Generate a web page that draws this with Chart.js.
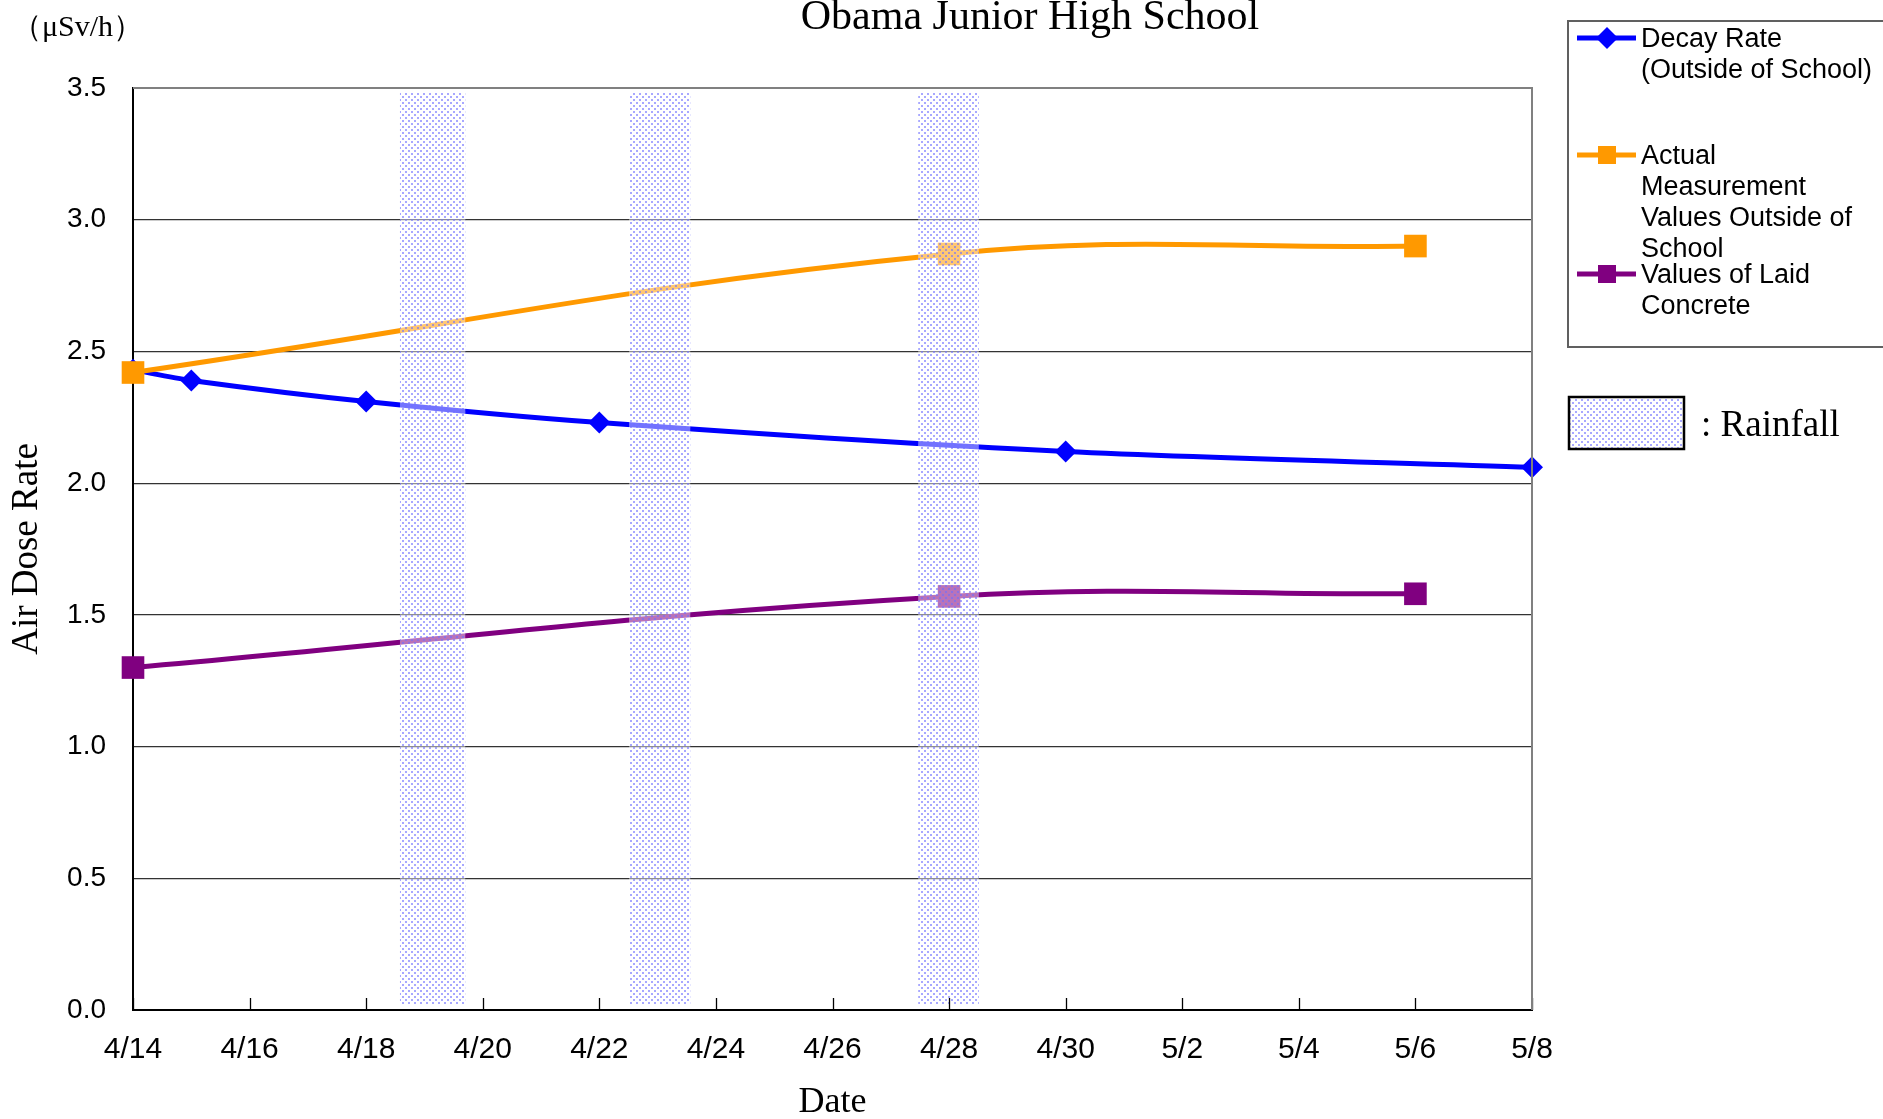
<!DOCTYPE html>
<html>
<head>
<meta charset="utf-8">
<script src="https://cdn.jsdelivr.net/npm/chart.js@4"></script>
<style>
  html, body { margin: 0; padding: 0; background: #fff; }
  #wrap { width: 1883px; height: 1119px; }
</style>
</head>
<body>
<div id="wrap"><canvas id="chart" width="1883" height="1119"></canvas></div>
<script>
// x values are days counted from 4/14
const tickLabels = ['4/14', '4/16', '4/18', '4/20', '4/22', '4/24', '4/26', '4/28', '4/30', '5/2', '5/4', '5/6', '5/8'];
const decayDays = [0, 1, 4, 8, 16, 24];
const decayValues = [2.43, 2.39, 2.31, 2.23, 2.12, 2.06];
const measureDays = [0, 14, 22];
const actualValues = [2.42, 2.87, 2.90];
const concreteValues = [1.30, 1.57, 1.58];
// rainfall periods (days from 4/14)
const rainStart = [4.58, 8.51, 13.47];
const rainEnd = [5.70, 9.56, 14.51];

const seriesNames = ['Decay Rate (Outside of School)', 'Actual Measurement Values Outside of School', 'Values of Laid Concrete'];
const legendLines = [
    ['Decay Rate', '(Outside of School)'],
    ['Actual', 'Measurement', 'Values Outside of', 'School'],
    ['Values of Laid', 'Concrete']
];

const BLUE = '#0000FF';
const ORANGE = '#FF9900';
const PURPLE = '#800080';
const SERIF = "'Liberation Serif', 'Times New Roman', serif";
const SANS = "'Liberation Sans', Arial, sans-serif";
const NARROW = "'Liberation Sans Narrow', 'Arial Narrow', 'Liberation Sans', sans-serif";

function toPoints(xs, ys) {
    return xs.map((x, i) => ({ x: x, y: ys[i] }));
}

// dotted fill used for the rainfall bands
function makeDots() {
    const c = document.createElement('canvas');
    c.width = 6;
    c.height = 6;
    const g = c.getContext('2d');
    g.fillStyle = 'rgba(110,110,255,0.6)';
    g.fillRect(0, 0, 2, 2);
    g.fillRect(3, 3, 2, 2);
    return c;
}

function drawMarker(ctx, style, x, y, size, color) {
    ctx.fillStyle = color;
    ctx.beginPath();
    if (style === 'diamond') {
        ctx.moveTo(x, y - size);
        ctx.lineTo(x + size, y);
        ctx.lineTo(x, y + size);
        ctx.lineTo(x - size, y);
        ctx.closePath();
    } else {
        ctx.rect(x - size, y - size, size * 2, size * 2);
    }
    ctx.fill();
}

const rainPlugin = {
    id: 'rain',
    afterDatasetsDraw(chart) {
        const ctx = chart.ctx;
        const xs = chart.scales.x;
        const area = chart.chartArea;
        const pat = ctx.createPattern(makeDots(), 'repeat');
        ctx.save();
        for (let i = 0; i < rainStart.length; i++) {
            const x0 = xs.getPixelForValue(rainStart[i]);
            const x1 = xs.getPixelForValue(rainEnd[i]);
            const y0 = area.top + 4;
            const y1 = area.bottom - 6;
            ctx.fillStyle = 'rgba(255,255,255,0.45)';
            ctx.fillRect(x0, y0, x1 - x0, y1 - y0);
            ctx.fillStyle = pat;
            ctx.fillRect(x0, y0, x1 - x0, y1 - y0);
        }
        ctx.restore();
    }
};

const decorPlugin = {
    id: 'decor',
    afterDraw(chart) {
        const ctx = chart.ctx;
        const area = chart.chartArea;
        const xs = chart.scales.x;
        ctx.save();

        // x tick marks pointing into the plot
        ctx.strokeStyle = '#000';
        ctx.lineWidth = 1.3;
        tickLabels.forEach((t, i) => {
            const px = Math.round(xs.getPixelForValue(i * 2)) + 0.5;
            ctx.beginPath();
            ctx.moveTo(px, area.bottom);
            ctx.lineTo(px, area.bottom - 12);
            ctx.stroke();
        });

        // top and right frame
        ctx.strokeStyle = '#808080';
        ctx.lineWidth = 2;
        ctx.beginPath();
        ctx.moveTo(area.left, area.top);
        ctx.lineTo(area.right, area.top);
        ctx.lineTo(area.right, area.bottom);
        ctx.stroke();

        // title and unit
        ctx.fillStyle = '#000';
        ctx.textBaseline = 'alphabetic';
        ctx.textAlign = 'center';
        ctx.font = '42px ' + SERIF;
        ctx.fillText('Obama Junior High School', 1030, 29);
        ctx.textAlign = 'left';
        ctx.font = '30px ' + SERIF;
        ctx.fillText('（μSv/h）', 12, 36);

        // legend box
        ctx.strokeStyle = '#606060';
        ctx.lineWidth = 2;
        ctx.strokeRect(1568, 21, 330, 326);

        const rowY = [38, 155, 274];
        const styles = ['diamond', 'square', 'square'];
        const sizes = [11, 9, 9];
        const colors = [BLUE, ORANGE, PURPLE];
        ctx.font = '27px ' + SANS;
        ctx.textBaseline = 'middle';
        for (let i = 0; i < 3; i++) {
            const y = rowY[i];
            ctx.strokeStyle = colors[i];
            ctx.lineWidth = 5;
            ctx.beginPath();
            ctx.moveTo(1577, y);
            ctx.lineTo(1636, y);
            ctx.stroke();
            drawMarker(ctx, styles[i], 1607, y, sizes[i], colors[i]);
            ctx.fillStyle = '#000';
            legendLines[i].forEach((line, j) => {
                ctx.fillText(line, 1641, y + 2 + j * 30.7);
            });
        }

        // rainfall key
        const pat = ctx.createPattern(makeDots(), 'repeat');
        ctx.fillStyle = '#fff';
        ctx.fillRect(1569, 397, 115, 52);
        ctx.fillStyle = pat;
        ctx.fillRect(1569, 397, 115, 52);
        ctx.strokeStyle = '#000';
        ctx.lineWidth = 2.5;
        ctx.strokeRect(1569, 397, 115, 52);
        ctx.fillStyle = '#000';
        ctx.font = '37px ' + SERIF;
        ctx.textBaseline = 'alphabetic';
        ctx.fillText(': Rainfall', 1701, 436);

        ctx.restore();
    }
};

Chart.defaults.font.family = SANS;
Chart.defaults.color = '#000';

new Chart(document.getElementById('chart'), {
    type: 'line',
    data: {
        datasets: [{
            label: seriesNames[0],
            data: toPoints(decayDays, decayValues),
            borderColor: BLUE,
            backgroundColor: BLUE,
            borderWidth: 5,
            pointStyle: 'rectRot',
            pointRadius: 11,
            pointBorderWidth: 0,
            tension: 0.3,
            clip: false,
            order: 1
        }, {
            label: seriesNames[1],
            data: toPoints(measureDays, actualValues),
            borderColor: ORANGE,
            backgroundColor: ORANGE,
            borderWidth: 5,
            pointStyle: 'rect',
            pointRadius: 16,
            pointBorderWidth: 0,
            tension: 0.4,
            clip: false,
            order: 0
        }, {
            label: seriesNames[2],
            data: toPoints(measureDays, concreteValues),
            borderColor: PURPLE,
            backgroundColor: PURPLE,
            borderWidth: 5,
            pointStyle: 'rect',
            pointRadius: 16,
            pointBorderWidth: 0,
            tension: 0.4,
            clip: false,
            order: 2
        }]
    },
    options: {
        responsive: false,
        animation: false,
        devicePixelRatio: 1,
        layout: {
            padding: { top: 88, right: 351, left: 0, bottom: 0 }
        },
        plugins: {
            legend: { display: false },
            tooltip: { enabled: false }
        },
        scales: {
            x: {
                type: 'linear',
                min: 0,
                max: 24,
                afterFit: (scale) => { scale.height = 109; },
                grid: { display: true, drawOnChartArea: false, drawTicks: false },
                border: { display: true, color: '#000', width: 2 },
                ticks: {
                    stepSize: 2,
                    autoSkip: false,
                    maxRotation: 0,
                    padding: 22,
                    font: { family: NARROW, size: 30 },
                    callback: (v) => tickLabels[v / 2]
                },
                title: {
                    display: true,
                    text: 'Date',
                    font: { family: SERIF, size: 36 },
                    padding: { top: 0, bottom: -5 }
                }
            },
            y: {
                min: 0,
                max: 3.5,
                afterFit: (scale) => { scale.width = 133; },
                grid: { color: '#333', lineWidth: 1.2, drawTicks: false },
                border: { display: true, color: '#000', width: 2 },
                ticks: {
                    stepSize: 0.5,
                    padding: 27,
                    font: { family: SANS, size: 28 },
                    callback: (v) => v.toFixed(1)
                },
                title: {
                    display: true,
                    text: 'Air Dose Rate',
                    font: { family: SERIF, size: 37 },
                    padding: { top: 5, bottom: 0 }
                }
            }
        }
    },
    plugins: [rainPlugin, decorPlugin]
});
</script>
</body>
</html>
